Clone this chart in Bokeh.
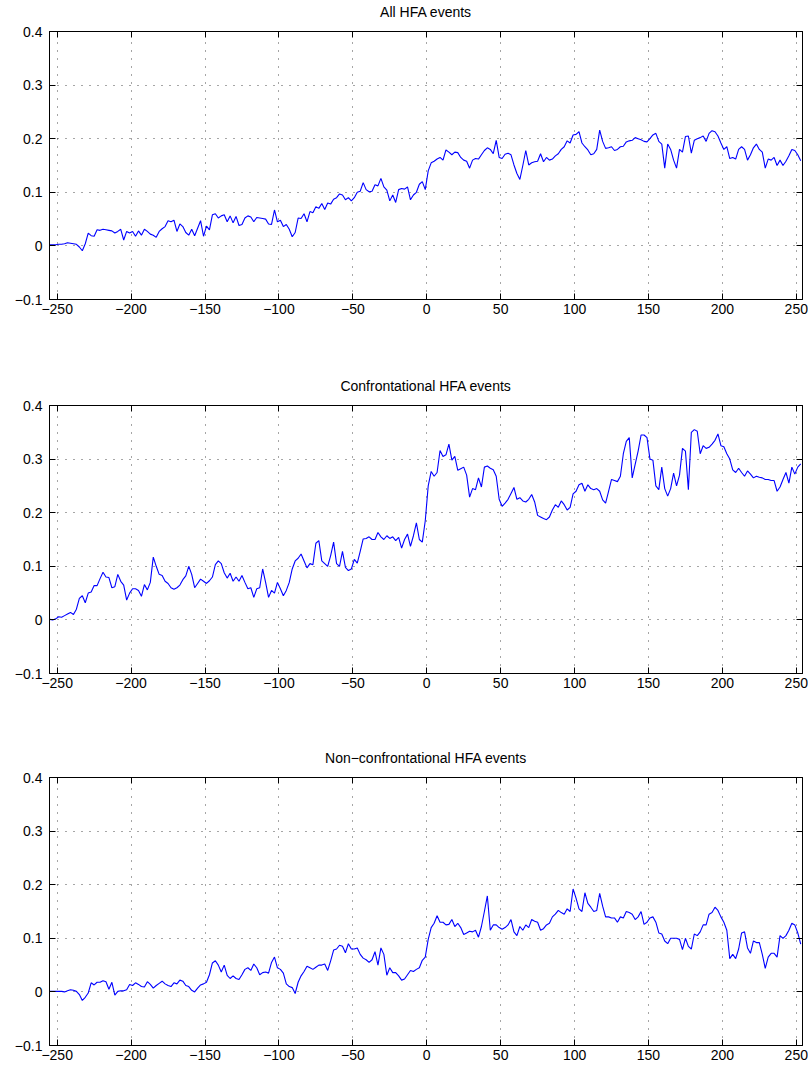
from bokeh.plotting import figure
from bokeh.layouts import column
from bokeh.models import Range1d, LinearAxis, FixedTicker
from bokeh.embed import file_html
from bokeh.resources import INLINE

# days relative to the event, every second day
days = list(range(-255, 254, 2))

all_events = [
    0.002, 0.002, 0.002, 0.003, 0.003, 0.004, 0.006, 0.005,
    0.004, 0.003, -0.002, -0.009, 0.004, 0.024, 0.019, 0.018,
    0.030, 0.029, 0.031, 0.030, 0.029, 0.028, 0.024, 0.027,
    0.031, 0.011, 0.027, 0.024, 0.027, 0.018, 0.028, 0.020,
    0.031, 0.027, 0.022, 0.020, 0.016, 0.027, 0.032, 0.036,
    0.047, 0.045, 0.048, 0.027, 0.041, 0.036, 0.025, 0.020,
    0.031, 0.019, 0.033, 0.047, 0.018, 0.037, 0.030, 0.058,
    0.060, 0.052, 0.056, 0.058, 0.045, 0.056, 0.043, 0.055,
    0.038, 0.040, 0.052, 0.056, 0.054, 0.045, 0.053, 0.052,
    0.051, 0.050, 0.041, 0.040, 0.067, 0.045, 0.048, 0.036,
    0.040, 0.031, 0.017, 0.025, 0.052, 0.051, 0.060, 0.045,
    0.064, 0.062, 0.073, 0.070, 0.079, 0.068, 0.080, 0.078,
    0.087, 0.090, 0.097, 0.095, 0.086, 0.090, 0.084, 0.090,
    0.100, 0.102, 0.118, 0.105, 0.101, 0.102, 0.114, 0.112,
    0.126, 0.110, 0.104, 0.084, 0.095, 0.081, 0.105, 0.107,
    0.106, 0.110, 0.086, 0.095, 0.100, 0.115, 0.120, 0.105,
    0.140, 0.155, 0.158, 0.162, 0.165, 0.160, 0.179, 0.175,
    0.170, 0.175, 0.174, 0.165, 0.160, 0.158, 0.145, 0.160,
    0.163, 0.162, 0.170, 0.178, 0.183, 0.180, 0.172, 0.197,
    0.165, 0.163, 0.171, 0.173, 0.170, 0.151, 0.135, 0.124,
    0.150, 0.178, 0.151, 0.155, 0.157, 0.158, 0.172, 0.157,
    0.165, 0.160, 0.162, 0.168, 0.172, 0.180, 0.185, 0.196,
    0.192, 0.207, 0.208, 0.213, 0.192, 0.185, 0.179, 0.170,
    0.172, 0.180, 0.216, 0.195, 0.182, 0.183, 0.185, 0.178,
    0.180, 0.185, 0.186, 0.194, 0.196, 0.197, 0.202, 0.200,
    0.198, 0.195, 0.194, 0.200, 0.207, 0.210, 0.195, 0.190,
    0.145, 0.190, 0.180, 0.160, 0.145, 0.180, 0.175, 0.204,
    0.205, 0.173, 0.197, 0.200, 0.202, 0.205, 0.195, 0.210,
    0.215, 0.213, 0.205, 0.192, 0.180, 0.185, 0.163, 0.165,
    0.162, 0.180, 0.185, 0.180, 0.160, 0.170, 0.183, 0.190,
    0.180, 0.175, 0.145, 0.162, 0.160, 0.165, 0.150, 0.160,
    0.150, 0.158, 0.168, 0.180, 0.178, 0.170, 0.159,
]

confrontational = [
    0.001, 0.000, 0.002, 0.006, 0.005, 0.008, 0.011, 0.014,
    0.010, 0.020, 0.040, 0.045, 0.032, 0.050, 0.052, 0.064,
    0.064, 0.077, 0.089, 0.080, 0.079, 0.060, 0.062, 0.085,
    0.072, 0.065, 0.037, 0.050, 0.058, 0.058, 0.055, 0.044,
    0.066, 0.056, 0.070, 0.117, 0.100, 0.085, 0.083, 0.072,
    0.068, 0.060, 0.057, 0.060, 0.065, 0.075, 0.082, 0.100,
    0.085, 0.060, 0.068, 0.076, 0.072, 0.068, 0.073, 0.080,
    0.103, 0.110, 0.105, 0.088, 0.078, 0.087, 0.072, 0.080,
    0.072, 0.083, 0.070, 0.058, 0.060, 0.042, 0.058, 0.060,
    0.095, 0.070, 0.042, 0.055, 0.050, 0.070, 0.058, 0.045,
    0.055, 0.070, 0.095, 0.110, 0.115, 0.123,
    0.110, 0.097, 0.105, 0.103, 0.143, 0.148, 0.110, 0.105,
    0.100, 0.120, 0.145, 0.105, 0.100, 0.128, 0.098, 0.092,
    0.095, 0.113, 0.106, 0.128, 0.151, 0.152, 0.155, 0.150,
    0.150, 0.163, 0.155, 0.150, 0.157, 0.152, 0.155, 0.148,
    0.154, 0.134, 0.150, 0.160, 0.137, 0.157, 0.181, 0.150,
    0.145, 0.185, 0.250, 0.277, 0.268, 0.275, 0.316, 0.305,
    0.308, 0.328, 0.298, 0.305, 0.279, 0.282, 0.285, 0.270,
    0.229, 0.245, 0.243, 0.265, 0.248, 0.285, 0.287, 0.283,
    0.280, 0.268, 0.225, 0.212, 0.218, 0.225, 0.236, 0.247,
    0.225, 0.228, 0.222, 0.220, 0.225, 0.234, 0.220, 0.195,
    0.192, 0.189, 0.187, 0.192,
    0.205, 0.215, 0.210, 0.222, 0.215, 0.205, 0.210, 0.235,
    0.240, 0.252, 0.255, 0.240, 0.252, 0.245, 0.243, 0.245,
    0.240, 0.224, 0.218, 0.240, 0.262, 0.260, 0.258, 0.268,
    0.310, 0.333, 0.340, 0.265, 0.290, 0.315, 0.345, 0.345,
    0.340, 0.300, 0.298, 0.250, 0.243, 0.285, 0.245, 0.231,
    0.245, 0.274, 0.250, 0.270, 0.320, 0.315, 0.243, 0.350,
    0.355, 0.352, 0.310, 0.325, 0.320, 0.322, 0.328, 0.335,
    0.347, 0.325, 0.323, 0.310, 0.300, 0.280, 0.275, 0.283,
    0.275, 0.268, 0.278, 0.272, 0.265, 0.268, 0.266, 0.265,
    0.262, 0.262, 0.260, 0.260, 0.240, 0.248, 0.262, 0.275,
    0.255, 0.285, 0.272, 0.285, 0.291,
]

non_confrontational = [
    0.001, 0.001, 0.001, 0.001, 0.001, 0.000, 0.002, 0.004,
    0.003, 0.001, -0.005, -0.016, -0.010, -0.002, 0.017, 0.013,
    0.018, 0.018, 0.021, 0.019, 0.005, 0.018, -0.006, 0.001,
    0.002, 0.002, 0.004, 0.014, 0.012, 0.017, 0.014, 0.010,
    0.009, 0.019, 0.014, 0.007, 0.012, 0.016, 0.020, 0.015,
    0.012, 0.010, 0.017, 0.015, 0.022, 0.020, 0.012, 0.010,
    0.003, 0.000, 0.007, 0.013, 0.015, 0.018, 0.032, 0.054,
    0.058, 0.050, 0.037, 0.050, 0.031, 0.025, 0.030, 0.025,
    0.023, 0.032, 0.042, 0.045, 0.040, 0.052, 0.045, 0.032,
    0.036, 0.037, 0.035, 0.055, 0.065, 0.045, 0.042, 0.035,
    0.015, 0.010, 0.008, -0.003, 0.018,
    0.030, 0.038, 0.048, 0.045, 0.042, 0.046, 0.050, 0.050,
    0.052, 0.040, 0.058, 0.078, 0.080, 0.087, 0.085, 0.073,
    0.090, 0.080, 0.080, 0.082, 0.070, 0.063, 0.060, 0.055,
    0.060, 0.075, 0.050, 0.082, 0.070, 0.031, 0.045, 0.036,
    0.036, 0.030, 0.022, 0.024, 0.032, 0.040, 0.038, 0.042,
    0.045, 0.059, 0.065, 0.098, 0.120, 0.128, 0.142, 0.130,
    0.130, 0.125, 0.126, 0.135, 0.122, 0.128, 0.120, 0.107,
    0.110, 0.113, 0.112, 0.115, 0.102, 0.122, 0.150, 0.179,
    0.115, 0.125, 0.125, 0.120, 0.117, 0.120, 0.125, 0.135,
    0.112, 0.105, 0.122, 0.115, 0.125, 0.120, 0.135, 0.132,
    0.130, 0.115, 0.118, 0.125, 0.128,
    0.140, 0.145, 0.152, 0.148, 0.145, 0.155, 0.150, 0.192,
    0.175, 0.155, 0.150, 0.185, 0.165, 0.158, 0.150, 0.152,
    0.184, 0.160, 0.140, 0.140, 0.138, 0.138, 0.130, 0.140,
    0.138, 0.150, 0.148, 0.145, 0.135, 0.140, 0.150, 0.126,
    0.130, 0.138, 0.140, 0.130, 0.110, 0.108, 0.095, 0.090,
    0.100, 0.100, 0.100, 0.098, 0.079, 0.100, 0.085, 0.080,
    0.108, 0.105, 0.112, 0.125, 0.125, 0.145, 0.148, 0.158,
    0.152, 0.140, 0.130, 0.115, 0.062, 0.070, 0.062, 0.080,
    0.110, 0.112, 0.082, 0.072, 0.095, 0.092, 0.092, 0.070,
    0.044, 0.065, 0.072, 0.072, 0.065, 0.105, 0.100, 0.105,
    0.115, 0.128, 0.125, 0.110, 0.089,
]

titles = ["All HFA events", "Confrontational HFA events",
          "Non\u2212confrontational HFA events"]

x_ticks = [-250, -200, -150, -100, -50, 0, 50, 100, 150, 200, 250]
x_tick_labels = ["\u2212250", "\u2212200", "\u2212150", "\u2212100", "\u221250",
                 "0", "50", "100", "150", "200", "250"]
y_ticks = [-0.1, 0, 0.1, 0.2, 0.3, 0.4]
y_tick_labels = ["\u22120.1", "0", "0.1", "0.2", "0.3", "0.4"]

FONT = "Liberation Sans"


def style_axis(ax, ticks, labels, show_labels, standoff):
    ax.ticker = FixedTicker(ticks=ticks)
    ax.minor_tick_line_color = None
    ax.major_tick_in = 6
    ax.major_tick_out = 0
    ax.major_tick_line_color = "black"
    ax.axis_line_color = "black"
    ax.major_label_text_font = FONT
    if show_labels:
        ax.major_label_overrides = dict(zip(ticks, labels))
        ax.major_label_text_color = "black"
        ax.major_label_text_font_size = "14px"
        ax.major_label_standoff = standoff
    else:
        # mirror axis: ticks only, labels not drawn
        ax.major_label_text_color = None
        ax.major_label_text_font_size = "1px"
        ax.major_label_standoff = 0


def make_panel(title, values, height, bottom):
    p = figure(width=808, height=height,
               x_range=Range1d(-255.2, 254.2), y_range=Range1d(-0.1, 0.4),
               output_backend="svg", toolbar_location=None,
               min_border_left=49, min_border_right=6,
               min_border_top=31, min_border_bottom=bottom)
    p.outline_line_color = "black"
    p.outline_line_alpha = 1
    p.background_fill_color = "white"
    p.border_fill_color = "white"

    style_axis(p.below[0], x_ticks, x_tick_labels, True, 4)
    style_axis(p.left[0], y_ticks, y_tick_labels, True, 7)

    # top mirror axis: ticks only, carries the panel title as its label
    top = LinearAxis(axis_label=title)
    style_axis(top, x_ticks, x_tick_labels, False, 0)
    top.axis_label_text_font = FONT
    top.axis_label_text_font_size = "14px"
    top.axis_label_text_font_style = "normal"
    top.axis_label_text_color = "black"
    top.axis_label_standoff = 12
    p.add_layout(top, "above")

    right = LinearAxis()
    style_axis(right, y_ticks, y_tick_labels, False, 0)
    p.add_layout(right, "right")

    p.xgrid.ticker = FixedTicker(ticks=x_ticks)
    p.ygrid.ticker = FixedTicker(ticks=y_ticks)
    for g in (p.xgrid, p.ygrid):
        g.grid_line_color = "black"
        g.grid_line_alpha = 0.7
        g.grid_line_dash = "1 7"
        g.grid_line_width = 1

    p.line(x=days, y=values, line_color="#0000ff", line_width=1.1)
    return p


p1 = make_panel(titles[0], all_events, 374, 75)
p2 = make_panel(titles[1], confrontational, 372, 73)
p3 = make_panel(titles[2], non_confrontational, 323, 24)

layout = column(p1, p2, p3, spacing=0)
open("out.html", "w").write(file_html(layout, INLINE))
